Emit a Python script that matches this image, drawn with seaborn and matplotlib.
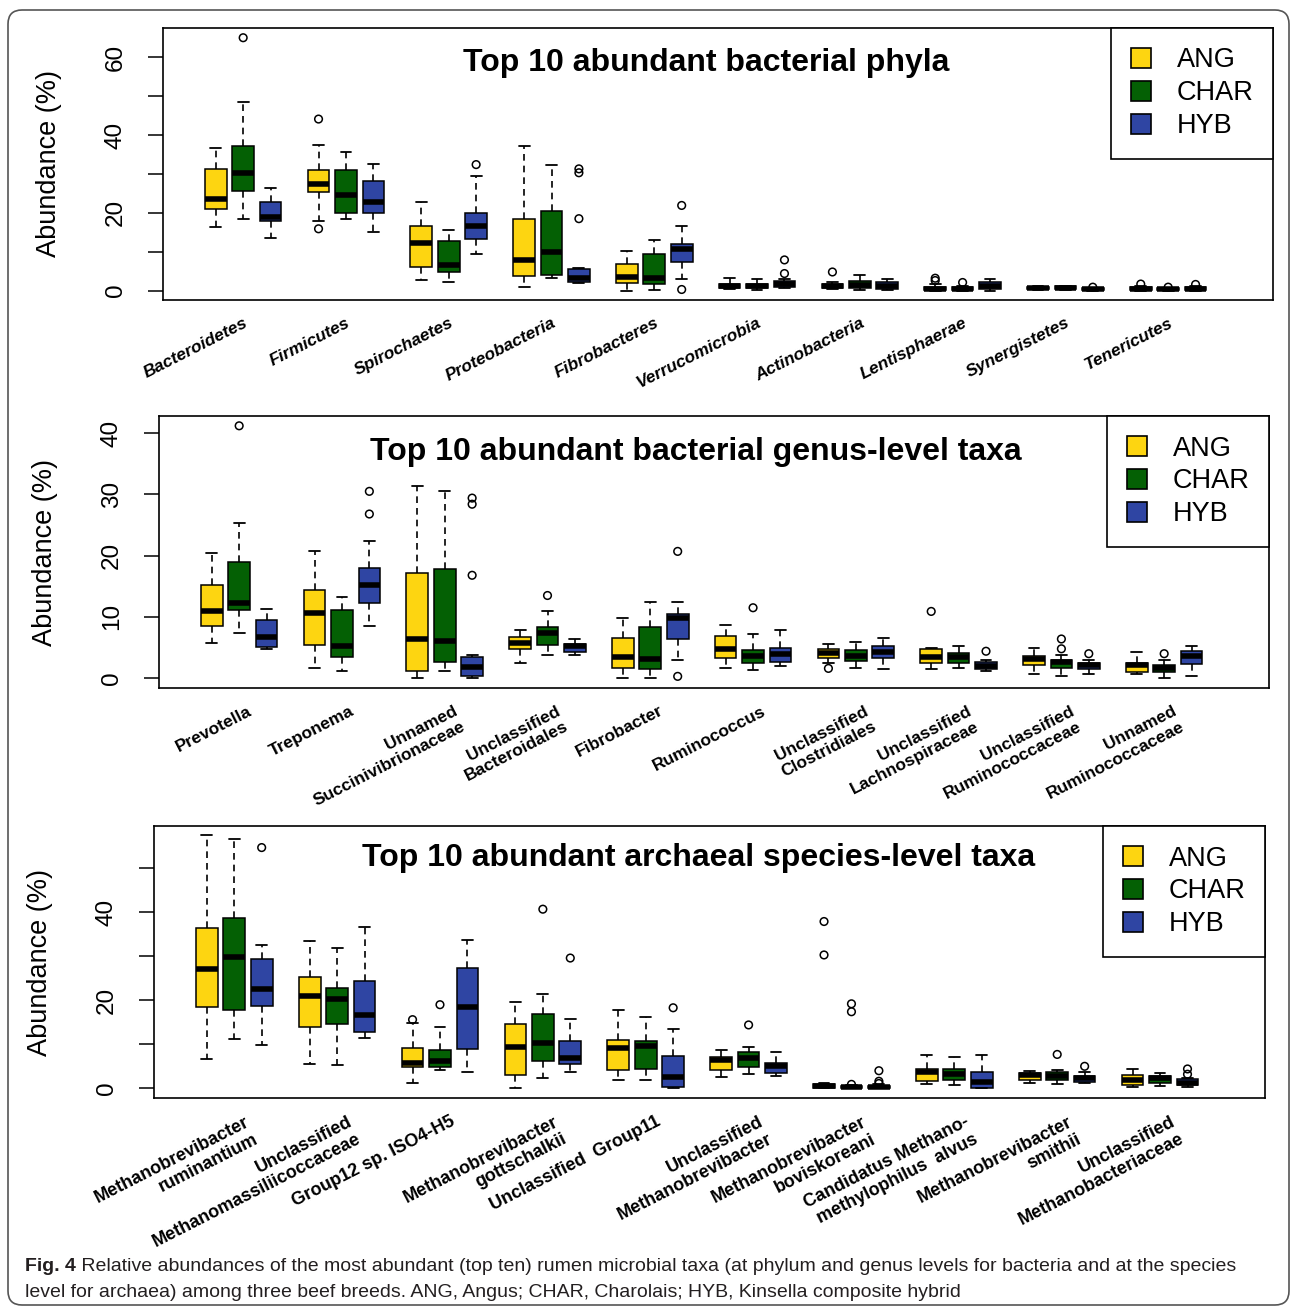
import matplotlib
matplotlib.use("Agg")
import matplotlib.pyplot as plt
import matplotlib.transforms as mtransforms
from matplotlib import font_manager
from matplotlib.patches import Patch, FancyBboxPatch
from matplotlib.ticker import FixedLocator, FuncFormatter
import seaborn as sns
import pandas as pd

BREEDS = ["ANG", "CHAR", "HYB"]
COLORS = {"ANG": "#FDD511", "CHAR": "#046004", "HYB": "#2F45A3"}

# ---- panel 1: phyla ----
phyla = ["Bacteroidetes", "Firmicutes", "Spirochaetes", "Proteobacteria", "Fibrobacteres",
         "Verrucomicrobia", "Actinobacteria", "Lentisphaerae", "Synergistetes", "Tenericutes"]
phyla_labels = phyla
# (lower whisker, Q1, median, Q3, upper whisker)
phyla_ang = [(16.4, 21.0, 23.5, 31.3, 36.7), (17.9, 25.3, 27.4, 31.1, 37.4),
             (2.8, 6.2, 12.3, 16.5, 22.7), (0.9, 3.7, 7.9, 18.3, 37.3),
             (0.0, 1.9, 3.4, 6.9, 10.3), (0.3, 0.8, 1.3, 1.8, 3.2),
             (0.3, 0.6, 1.1, 1.7, 2.2), (0.0, 0.1, 0.4, 1.0, 1.6),
             (0.1, 0.3, 0.6, 1.0, 1.3), (0.0, 0.1, 0.5, 1.0, 1.2)]
phyla_char = [(18.5, 25.7, 30.3, 37.1, 48.4), (18.3, 19.9, 24.6, 30.9, 35.6),
              (2.1, 4.7, 6.6, 12.7, 15.5), (3.3, 3.9, 10.0, 20.4, 32.2),
              (0.1, 1.6, 3.3, 9.3, 13.0), (0.2, 0.7, 1.2, 1.7, 2.9),
              (0.2, 0.6, 1.5, 2.4, 4.1), (0.0, 0.1, 0.3, 0.9, 1.3),
              (0.2, 0.4, 0.7, 1.1, 1.3), (0.0, 0.1, 0.3, 0.6, 0.8)]
phyla_hyb = [(13.6, 18.0, 18.9, 22.7, 26.5), (15.2, 20.0, 22.8, 28.2, 32.5),
             (9.3, 13.2, 16.5, 19.9, 29.5), (1.9, 2.2, 3.2, 5.6, 5.8),
             (3.0, 7.4, 10.6, 12.0, 16.5), (0.6, 1.0, 1.8, 2.5, 2.9),
             (0.2, 0.5, 1.3, 2.2, 3.1), (0.0, 0.3, 1.2, 2.1, 2.9),
             (0.0, 0.1, 0.3, 0.6, 0.8), (0.0, 0.1, 0.4, 0.9, 1.1)]
phyla_out_ang = {"Firmicutes": [44.1, 15.9], "Actinobacteria": [4.8],
                 "Lentisphaerae": [3.2, 2.6], "Tenericutes": [1.7]}
phyla_out_char = {"Bacteroidetes": [65.0], "Lentisphaerae": [2.1], "Tenericutes": [0.9]}
phyla_out_hyb = {"Spirochaetes": [32.4], "Proteobacteria": [31.3, 30.3, 18.5],
                 "Fibrobacteres": [21.9, 0.3], "Verrucomicrobia": [7.9, 4.4],
                 "Synergistetes": [0.9], "Tenericutes": [1.6]}

# ---- panel 2: genera ----
genera = ["Prevotella", "Treponema", "Unnamed Succinivibrionaceae", "Unclassified Bacteroidales",
          "Fibrobacter", "Ruminococcus", "Unclassified Clostridiales",
          "Unclassified Lachnospiraceae", "Unclassified Ruminococcaceae", "Unnamed Ruminococcaceae"]
genera_labels = ["Prevotella", "Treponema", "Unnamed\nSuccinivibrionaceae", "Unclassified\nBacteroidales",
                 "Fibrobacter", "Ruminococcus", "Unclassified\nClostridiales",
                 "Unclassified\nLachnospiraceae", "Unclassified\nRuminococcaceae", "Unnamed\nRuminococcaceae"]
genus_ang = [(5.7, 8.6, 10.9, 15.2, 20.4), (1.7, 5.4, 10.7, 14.4, 20.7),
             (0.1, 1.25, 6.4, 17.1, 31.3), (2.5, 4.8, 5.8, 6.7, 7.9),
             (0.0, 1.7, 3.5, 6.6, 9.8), (1.6, 3.3, 4.7, 6.9, 8.75),
             (2.4, 3.3, 4.1, 4.8, 5.65), (1.5, 2.5, 3.5, 4.7, 4.9),
             (0.7, 2.2, 3.2, 3.6, 5.0), (0.7, 1.0, 2.1, 2.5, 4.3)]
genus_char = [(7.3, 11.1, 12.3, 18.9, 25.3), (1.1, 3.4, 5.3, 11.2, 13.3),
              (1.2, 2.7, 6.0, 17.8, 30.5), (3.75, 5.4, 7.3, 8.3, 10.9),
              (0.1, 1.5, 3.2, 8.3, 12.4), (1.3, 2.4, 3.6, 4.6, 7.2),
              (1.6, 2.8, 3.7, 4.6, 5.9), (1.6, 2.5, 3.5, 4.1, 5.3),
              (0.4, 1.7, 2.6, 3.0, 3.75), (0.05, 1.0, 1.7, 2.1, 3.0)]
genus_hyb = [(4.7, 5.1, 6.8, 9.5, 11.3), (8.5, 12.3, 15.2, 18.0, 22.4),
             (0.0, 0.4, 1.9, 3.5, 3.75), (3.75, 4.3, 5.3, 5.65, 6.4),
             (2.9, 6.4, 9.9, 10.5, 12.5), (2.0, 2.7, 3.9, 4.9, 7.9),
             (1.5, 3.3, 4.2, 5.2, 6.5), (1.1, 1.5, 2.0, 2.7, 2.9),
             (0.65, 1.5, 2.1, 2.55, 3.0), (0.3, 2.3, 3.6, 4.5, 5.3)]
genus_out_ang = {"Unclassified Clostridiales": [1.6], "Unclassified Lachnospiraceae": [10.9]}
genus_out_char = {"Prevotella": [41.2], "Unclassified Bacteroidales": [13.5], "Ruminococcus": [11.5],
                  "Unclassified Ruminococcaceae": [6.4, 4.8], "Unnamed Ruminococcaceae": [4.0]}
genus_out_hyb = {"Treponema": [30.5, 26.8], "Unnamed Succinivibrionaceae": [29.4, 28.4, 16.8],
                 "Fibrobacter": [20.7, 0.3], "Unclassified Lachnospiraceae": [4.4],
                 "Unclassified Ruminococcaceae": [4.0]}

# ---- panel 3: archaeal species ----
species = ["Methanobrevibacter ruminantium", "Unclassified Methanomassiliicoccaceae",
           "Group12 sp. ISO4-H5", "Methanobrevibacter gottschalkii", "Unclassified Group11",
           "Unclassified Methanobrevibacter", "Methanobrevibacter boviskoreani",
           "Candidatus Methanomethylophilus alvus", "Methanobrevibacter smithii",
           "Unclassified Methanobacteriaceae"]
species_labels = ["Methanobrevibacter\nruminantium", "Unclassified\nMethanomassiliicoccaceae",
                  "Group12 sp. ISO4-H5", "Methanobrevibacter\ngottschalkii", "Unclassified  Group11",
                  "Unclassified\nMethanobrevibacter", "Methanobrevibacter\nboviskoreani",
                  "Candidatus Methano-\nmethylophilus  alvus", "Methanobrevibacter\nsmithii",
                  "Unclassified\nMethanobacteriaceae"]
species_ang = [(6.6, 18.4, 27.1, 36.4, 57.5), (5.6, 14.0, 20.9, 25.2, 33.4),
               (1.1, 4.9, 5.8, 9.2, 14.9), (0.15, 3.1, 9.3, 14.6, 19.7),
               (1.9, 4.1, 9.1, 11.0, 17.9), (2.5, 4.25, 6.4, 7.1, 8.65),
               (0.0, 0.1, 0.5, 1.0, 1.2), (1.0, 1.6, 3.8, 4.5, 7.5),
               (1.1, 1.8, 3.0, 3.4, 3.9), (0.3, 0.8, 1.8, 3.0, 4.5)]
species_char = [(11.3, 17.9, 29.8, 38.8, 56.6), (5.2, 14.6, 20.3, 22.8, 31.9),
                (4.1, 4.9, 6.1, 8.8, 14.0), (2.3, 6.3, 10.2, 16.9, 21.5),
                (1.8, 4.4, 9.6, 10.7, 16.3), (3.3, 4.9, 6.8, 8.3, 9.3),
                (0.0, 0.05, 0.2, 0.5, 0.7), (0.7, 2.0, 3.2, 4.3, 7.2),
                (1.0, 1.8, 2.9, 3.7, 4.1), (0.6, 1.2, 2.35, 2.8, 3.5)]
species_hyb = [(9.9, 18.6, 22.5, 29.4, 32.5), (11.5, 12.8, 16.7, 24.4, 36.7),
               (3.7, 9.0, 18.4, 27.3, 33.7), (3.6, 5.6, 7.0, 10.7, 15.8),
               (0.0, 0.2, 2.5, 7.4, 13.4), (2.7, 3.5, 5.0, 5.7, 8.3),
               (0.0, 0.05, 0.3, 0.6, 0.9), (0.0, 0.1, 1.4, 3.8, 7.6),
               (1.2, 1.4, 2.4, 2.9, 3.7), (0.3, 0.7, 1.3, 2.1, 2.4)]
species_out_ang = {"Group12 sp. ISO4-H5": [15.6], "Methanobrevibacter boviskoreani": [37.9, 30.3]}
species_out_char = {"Group12 sp. ISO4-H5": [19.0], "Methanobrevibacter gottschalkii": [40.7],
                    "Unclassified Methanobrevibacter": [14.4],
                    "Methanobrevibacter boviskoreani": [19.2, 17.4, 0.9],
                    "Methanobrevibacter smithii": [7.7]}
species_out_hyb = {"Methanobrevibacter ruminantium": [54.7], "Methanobrevibacter gottschalkii": [29.6],
                   "Unclassified Group11": [18.3], "Methanobrevibacter boviskoreani": [4.0, 1.6, 1.1],
                   "Methanobrevibacter smithii": [5.0], "Unclassified Methanobacteriaceae": [4.4, 3.2]}

CAPTION_1 = (" Relative abundances of the most abundant (top ten) rumen microbial taxa "
             "(at phylum and genus levels for bacteria and at the species")
CAPTION_2 = ("level for archaea) among three beef breeds. ANG, Angus; CHAR, Charolais; "
             "HYB, Kinsella composite hybrid")


def box_frame(taxa, stats):
    rows = []
    for breed, five_list in zip(BREEDS, stats):
        for taxon, five in zip(taxa, five_list):
            for v in five:
                rows.append((taxon, breed, v))
    return pd.DataFrame(rows, columns=["taxon", "breed", "value"])


def outlier_frame(outs):
    rows = []
    for breed, d in zip(BREEDS, outs):
        for taxon, vals in d.items():
            for v in vals:
                rows.append((taxon, breed, v))
    return pd.DataFrame(rows, columns=["taxon", "breed", "value"])


def draw_panel(ax, taxa, labels, stats, outs, title, title_xy, ylim, yticks, label_step,
               label_style, label_dx, label_size):
    df = box_frame(taxa, stats)
    sns.boxplot(data=df, x="taxon", y="value", hue="breed", order=taxa, hue_order=BREEDS,
                palette=COLORS, saturation=1, width=0.8, gap=0.21, whis=(0, 100),
                linecolor="black", linewidth=1.1, fliersize=0, legend=False, ax=ax,
                medianprops={"linewidth": 4, "solid_capstyle": "butt", "color": "black"},
                whiskerprops={"linestyle": (0, (4, 3)), "linewidth": 1.2},
                capprops={"linewidth": 1.3})
    n = len(ax.collections)
    sns.stripplot(data=outlier_frame(outs), x="taxon", y="value", hue="breed", order=taxa,
                  hue_order=BREEDS, dodge=True, jitter=False, size=5.5, marker="o",
                  legend=False, ax=ax)
    for c in ax.collections[n:]:
        c.set_facecolor("none")
        c.set_edgecolor("black")
        c.set_linewidth(1.1)

    ax.set_xlim(-0.78, 10.02)
    ax.set_ylim(*ylim)
    ax.yaxis.set_major_locator(FixedLocator(yticks))
    ax.yaxis.set_major_formatter(FuncFormatter(
        lambda v, p: f"{v:.0f}" if round(v) % label_step == 0 else ""))
    ax.tick_params(axis="y", length=11, width=1.1, pad=15, labelsize=17.5, labelrotation=90)
    plt.setp(ax.get_yticklabels(), va="center")

    ax.set_xticks(range(len(taxa)))
    ax.set_xticklabels(labels, rotation=27, ha="right", rotation_mode="anchor",
                       fontsize=label_size, fontweight="bold", fontstyle=label_style)
    ax.tick_params(axis="x", length=0, pad=11)
    offset = mtransforms.ScaledTranslation(label_dx / 100, 0, ax.figure.dpi_scale_trans)
    for lab in ax.get_xticklabels():
        lab.set_transform(lab.get_transform() + offset)

    ax.set_xlabel("")
    ax.set_ylabel("Abundance (%)", fontsize=19.5)
    ax.yaxis.set_label_coords(-0.091, 0.5)
    for s in ax.spines.values():
        s.set_linewidth(1.2)
        s.set_color("black")

    ax.text(title_xy[0], title_xy[1], title, transform=ax.transAxes, ha="center", va="center",
            fontsize=23, fontweight="bold")

    handles = [Patch(facecolor=COLORS[b], edgecolor="black", linewidth=1.2, label=b) for b in BREEDS]
    leg = ax.legend(handles=handles, loc="upper right", bbox_to_anchor=(1, 1), borderaxespad=0,
                    fontsize=19.5, frameon=True, fancybox=False, edgecolor="black", framealpha=1,
                    handlelength=0.75, handleheight=0.75, handletextpad=0.95, labelspacing=0.25,
                    borderpad=0.72)
    leg.get_frame().set_linewidth(1.2)


sns.set_theme(style="ticks")
plt.rcParams["font.family"] = ["Liberation Sans", "DejaVu Sans"]
plt.rcParams["axes.edgecolor"] = "black"
plt.rcParams["xtick.color"] = "black"
plt.rcParams["ytick.color"] = "black"
plt.rcParams["text.color"] = "black"
plt.rcParams["axes.labelcolor"] = "black"

W, H = 1290, 1309
fig = plt.figure(figsize=(W / 100, H / 100), dpi=100)

# overlay for the outer frame and the caption (pixel coordinates)
ov = fig.add_axes([0, 0, 1, 1])
ov.set_xlim(0, W)
ov.set_ylim(H, 0)
ov.axis("off")
ov.add_patch(FancyBboxPatch((8, 10), 1281, 1295, boxstyle="round,pad=0,rounding_size=14",
                            fill=False, lw=1.2, ec="#555555"))

names = {f.name for f in font_manager.fontManager.ttflist}
if "Liberation Sans Narrow" in names:
    cap_family, cap_size = ["Liberation Sans Narrow"], 17.0
else:
    cap_family, cap_size = ["Liberation Sans"], 14.0
t1 = ov.text(25, 1271, "Fig. 4", fontsize=cap_size, fontweight="bold", family=cap_family,
             va="baseline", color="#231F20")
ov.annotate(CAPTION_1, xy=(1, 0), xycoords=t1, xytext=(0, 0), textcoords="offset points",
            va="bottom", ha="left", fontsize=cap_size, family=cap_family, color="#231F20")
ov.text(25, 1297, CAPTION_2, fontsize=cap_size, family=cap_family, va="baseline", color="#231F20")


def px_axes(left, right, top, bottom):
    return fig.add_axes([left / W, 1 - bottom / H, (right - left) / W, (bottom - top) / H])


ax1 = px_axes(163, 1273, 28, 300)
draw_panel(ax1, phyla, phyla_labels, [phyla_ang, phyla_char, phyla_hyb],
           [phyla_out_ang, phyla_out_char, phyla_out_hyb],
           "Top 10 abundant bacterial phyla", (0.489, 0.871), (-2.4, 67.5),
           range(0, 61, 10), 20, "italic", 0, 12.5)

ax2 = px_axes(159, 1269, 416, 688)
draw_panel(ax2, genera, genera_labels, [genus_ang, genus_char, genus_hyb],
           [genus_out_ang, genus_out_char, genus_out_hyb],
           "Top 10 abundant bacterial genus-level taxa", (0.484, 0.868), (-1.6, 42.8),
           range(0, 41, 10), 10, "normal", 8, 12.5)

ax3 = px_axes(154, 1265, 826, 1098)
draw_panel(ax3, species, species_labels, [species_ang, species_char, species_hyb],
           [species_out_ang, species_out_char, species_out_hyb],
           "Top 10 abundant archaeal species-level taxa", (0.4905, 0.882), (-2.2, 59.6),
           range(0, 51, 10), 20, "normal", 10, 13)

fig.savefig("out.png", dpi=100)
